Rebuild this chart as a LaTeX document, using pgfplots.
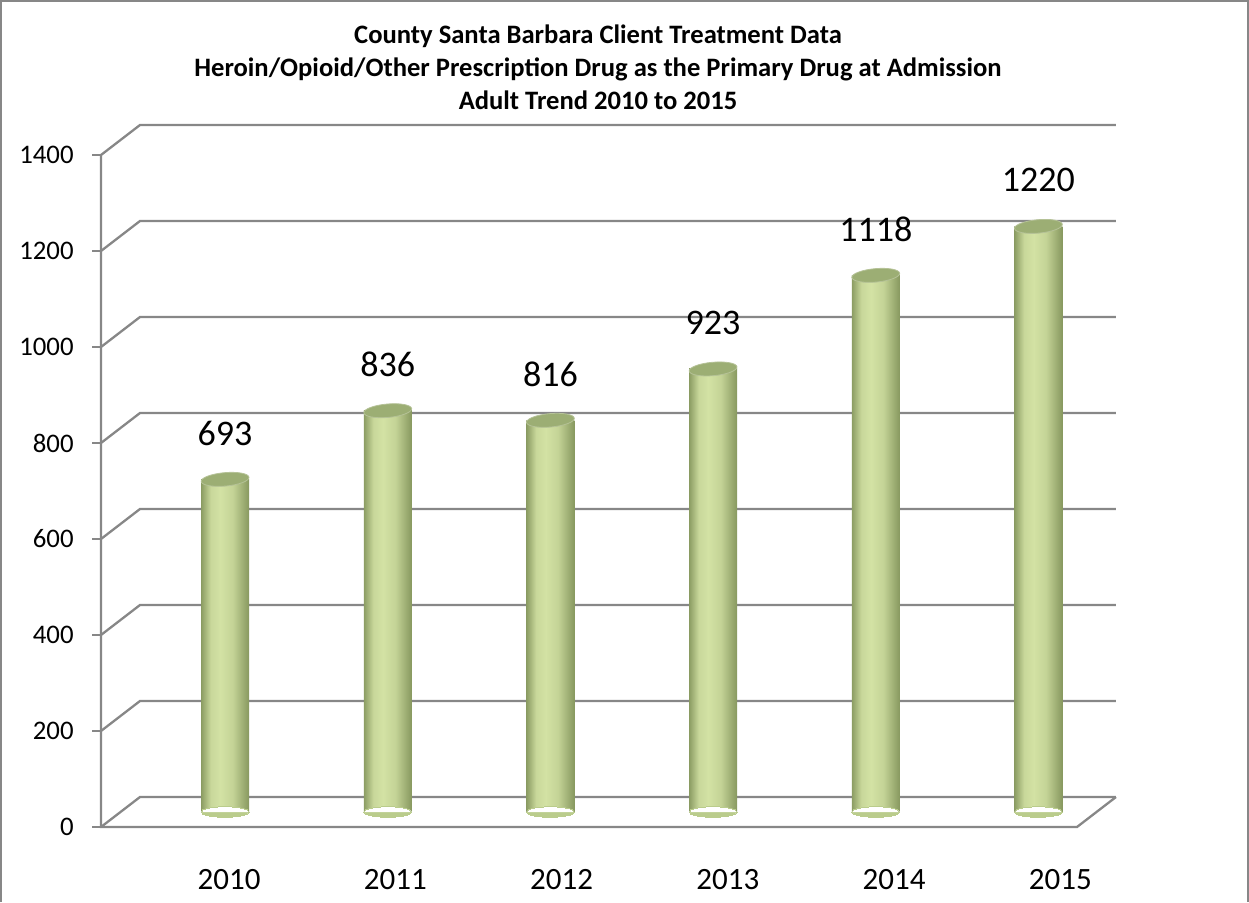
\documentclass[border=0pt]{standalone}
\usepackage{pgfplots}
\pgfplotsset{compat=1.18}
\usepackage{pgfplotstable}
\usepackage{fontspec}
\setmainfont{Carlito}
\definecolor{gridc}{HTML}{878787}
\definecolor{bardarkL}{HTML}{8B9C63}
\definecolor{bardarkR}{HTML}{87985F}
\definecolor{barlight}{HTML}{D3E2A4}
\definecolor{barmid}{HTML}{BACC8C}
\definecolor{bartop}{HTML}{9CAE74}
\pgfdeclarehorizontalshading{cyl}{100bp}{color(0bp)=(bardarkL); color(25bp)=(bardarkL); color(35bp)=(barlight!85!bardarkL); color(45bp)=(barlight); color(58bp)=(barlight!80!bardarkR); color(75bp)=(bardarkR); color(100bp)=(bardarkR)}
\pgfplotstableread{
x y base
0 693 0
1 836 0
2 816 0
3 923 0
4 1118 0
5 1220 0
}\datatable

\begin{document}
\begin{tikzpicture}
\useasboundingbox (0pt,0pt) rectangle (624.5pt,451pt);
\draw[gridc, line width=1pt] (0.5pt,0pt) -- (0.5pt,450.5pt) -- (624pt,450.5pt) -- (624pt,0pt);
\node[font=\bfseries\fontsize{13.3}{16.5}\selectfont, align=center] at (299pt,417.5pt) {County Santa Barbara Client Treatment Data\\Heroin/Opioid/Other Prescription Drug as the Primary Drug at Admission\\Adult Trend 2010 to 2015};
\begin{axis}[
  at={(60.25pt,45pt)}, anchor=south west,
  width=488pt, height=336pt, scale only axis,
  clip=false,
  xmin=-0.643, xmax=5.357, ymin=0, ymax=1400,
  axis line style={draw=none},
  major tick length=0pt,
  /pgf/number format/.cd, 1000 sep={}, assume math mode=true, /pgfplots/.cd,
  ytick={0,200,...,1400},
  xtick={0.025,1.047,2.069,3.091,4.113,5.135},
  xticklabels={2010,2011,2012,2013,2014,2015},
  yticklabel style={font=\fontsize{13.4}{14}\selectfont, anchor=east, inner sep=0pt, xshift=-23.25pt, yshift=-7.5pt},
  xticklabel style={font=\fontsize{15.5}{17}\selectfont, anchor=center, inner sep=0pt, yshift=-34pt},
  cyl/.style={ybar, bar width=24pt, bar shift=0pt, draw=none, shading=cyl},
]
\pgfplotsinvokeforeach{0,200,...,1400}{
  \draw[gridc, line width=1.15pt] ([xshift=-9.75pt,yshift=-7.5pt]axis cs:-0.643,#1) -- ([xshift=9.75pt,yshift=7.5pt]axis cs:-0.643,#1) -- ([xshift=9.75pt,yshift=7.5pt]axis cs:5.357,#1);
  \draw[gridc, line width=1.15pt] ([xshift=-9.75pt,yshift=-7.5pt]axis cs:-0.643,#1) -- ([xshift=-14.25pt,yshift=-7.5pt]axis cs:-0.643,#1);
}
\draw[gridc, line width=1.15pt] ([xshift=-9.75pt,yshift=-7.5pt]axis cs:-0.643,1400) -- ([xshift=-9.75pt,yshift=-7.5pt]axis cs:-0.643,0) -- ([xshift=-9.75pt,yshift=-7.5pt]axis cs:5.357,0) -- ([xshift=9.75pt,yshift=7.5pt]axis cs:5.357,0);
\addplot[only marks, mark=halfcircle*, mark size=12pt, mark options={draw=barmid, fill=barmid, line width=0pt, rotate=180, yscale=0.22}] table[x=x,y=base]{\datatable};
\addplot[cyl] coordinates {(0,693)};
\addplot[cyl] coordinates {(1,836)};
\addplot[cyl] coordinates {(2,816)};
\addplot[cyl] coordinates {(3,923)};
\addplot[cyl] coordinates {(4,1118)};
\addplot[cyl] coordinates {(5,1220)};
\addplot[only marks, mark=*, mark size=12pt, mark options={draw=bartop!75!white, line width=0.4pt, fill=bartop, rotate=5, yscale=0.28},
  nodes near coords, nodes near coords style={font=\fontsize{18}{20}\selectfont, anchor=center, yshift=23pt, text=black}] table[x=x,y=y]{\datatable};
\end{axis}
\end{tikzpicture}
\end{document}
